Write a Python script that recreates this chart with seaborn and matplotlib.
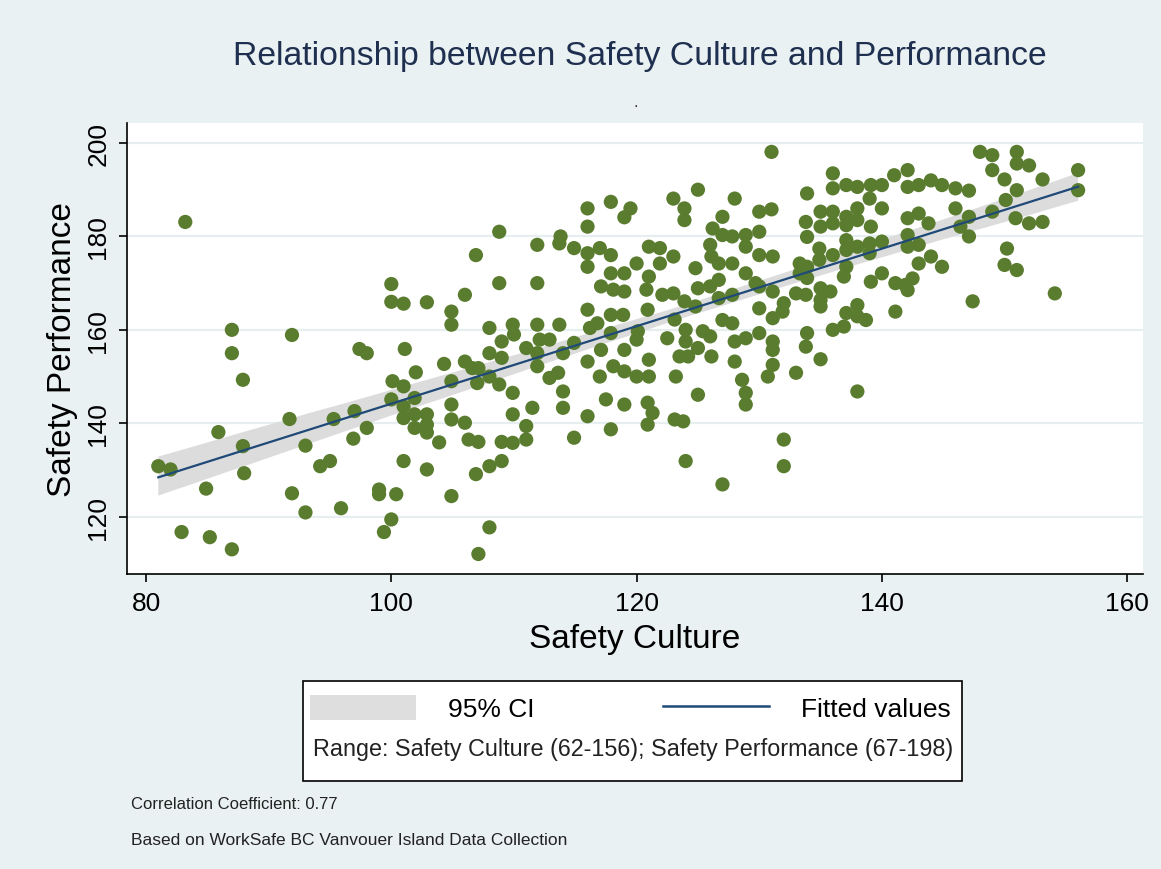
import matplotlib
matplotlib.use("Agg")
import matplotlib.pyplot as plt
from matplotlib.patches import Patch, Rectangle
from matplotlib.lines import Line2D
import numpy as np
import pandas as pd
import seaborn as sns

# points (safety culture, safety performance)
culture = [
    83.2, 100, 100, 101, 102.9, 104.9, 104.9, 87, 87, 91.9, 87.9, 97.4, 98, 101.1, 102, 104.3,
    104.9, 100.1, 101, 100, 101.9, 101, 101, 101.9, 102.9, 101.9, 102.9, 102.9, 104.9, 104.9,
    103.9, 97, 96.9, 98, 95.3, 91.7, 93, 94.2, 95, 101, 102.9, 85.9, 87.9, 88, 81, 82, 84.9,
    91.9, 93, 95.9, 99, 99, 100.4, 104.9, 100, 99.4, 82.9, 85.2, 87,
    131, 125, 123, 128, 123.9, 123.9, 117.9, 116, 116, 119.5, 119, 130, 131, 127, 126.2, 127,
    127.8, 128.9, 130, 128.9, 126, 126.1, 126.7, 127.8, 130, 131.1, 128.9, 129.7, 130, 131.1,
    127.8, 126.7, 126, 126.7, 124.8, 125, 124.8, 130, 131.1, 127, 127.8, 128, 128.9, 130, 131.1,
    131.1, 131.1, 130.7, 128, 128.6, 128.9, 128.9, 125, 123.2, 123.5, 124.2, 124, 125, 126,
    126.1, 125.4, 124, 123.1, 122.5, 123.1, 123.8, 124, 127, 121, 121.9, 120, 121.9, 123, 121,
    120.8, 122.1, 123, 123.9, 120.9, 120.1, 120, 119, 117.9, 117.9, 118.9, 119, 118.1, 117.1,
    117.9, 119, 117.9, 117, 116, 116, 114.9, 113.8, 113.7, 111.9, 108.8, 106.9, 108.8, 111.9,
    106, 108, 109.9, 110, 111.9, 113.7, 116, 116.2, 116.8, 109, 108, 109, 111, 112.1, 112.9,
    111.9, 111.9, 114, 114.9, 117.1, 116, 118.1, 119, 120, 121, 121, 117, 112.9, 113.6, 114,
    114, 111.5, 117.5, 119, 120.9, 121.3, 120.9, 116, 117.9, 114.9, 109.9, 109.9, 111, 111,
    109.9, 109, 107.1, 106.3, 106, 106, 106.6, 107.1, 107, 108, 108.8, 108, 109, 106.9, 108,
    107.1,
    148, 149, 151, 151, 152, 149, 150, 153.1, 156, 156, 151, 150.1, 149, 150.9, 152, 153.1,
    147.1, 146, 146.4, 147.1, 150.2, 150, 151, 154.1, 147.4, 142.1, 141, 147.1, 146, 144.9, 144,
    143, 142.1, 140, 139.1, 138, 137.1, 136, 136, 133.9, 139, 140, 138, 137.1, 136, 135, 133.8,
    135, 136, 137.1, 138, 139.1, 133.9, 142.1, 143, 143.8, 142.1, 142.1, 143, 140, 139, 138,
    137.1, 137.1, 139, 136, 134.9, 134.9, 133.3, 133.9, 133.3, 133.9, 137.1, 136.9, 143, 144,
    144.9, 140, 139.1, 141.1, 141.9, 142.5, 142.1, 133, 133.8, 135, 135.8, 135, 135, 132, 131.9,
    138, 137.1, 138, 138.7, 136.9, 136, 141.1, 133.9, 133.8, 133, 135, 138, 132, 132,
]
performance = [
    183.1, 169.8, 166, 165.6, 165.9, 163.9, 161.1, 160, 155, 158.9, 149.3, 155.9, 155, 155.9,
    150.9, 152.7, 149, 149, 147.9, 145.1, 145.4, 143.6, 141.1, 141.9, 141.9, 139, 139.7, 138,
    144, 140.8, 135.9, 142.6, 136.7, 139, 140.9, 140.9, 135.2, 130.8, 131.9, 131.9, 130.1,
    138.1, 135.1, 129.3, 130.8, 130.1, 126, 125, 120.9, 121.8, 125.8, 124.8, 124.8, 124.4,
    119.4, 116.7, 116.7, 115.6, 113,
    198.1, 190, 188.1, 188.1, 186, 183.5, 187.4, 186, 182.1, 186, 184.1, 185.3, 185.8, 184.2,
    181.7, 180.3, 180, 180.3, 181, 177.8, 178.2, 175.7, 174.2, 174.2, 176, 175.7, 172.1, 170,
    169.3, 168.2, 167.5, 170.7, 169.3, 166.8, 173.2, 168.9, 165, 164.6, 162.5, 162.1, 161.4,
    157.5, 158.2, 159.3, 157.5, 155.7, 152.5, 150, 153.2, 149.3, 146.5, 144, 146.1, 150, 154.3,
    154.3, 157.5, 156.1, 158.6, 154.3, 159.7, 160, 162.2, 158.2, 140.8, 140.4, 131.9, 126.9,
    177.8, 177.5, 174.2, 174.2, 175.7, 171.4, 168.6, 167.5, 167.8, 166.1, 164.3, 159.7, 157.9,
    155.7, 159.3, 163.2, 163.2, 168.2, 168.6, 169.3, 172.1, 172.1, 176, 177.5, 176.4, 173.5,
    177.5, 180, 178.5, 178.2, 181, 176, 170, 170, 167.5, 160.4, 161.1, 159, 161.1, 161.1,
    164.3, 160.4, 161.4, 157.5, 155, 154, 156.1, 157.9, 157.9, 155, 152.2, 155, 157.2, 155.7,
    153.2, 152.2, 151.1, 150, 153.6, 150, 150, 149.7, 150.8, 146.8, 143.3, 143.3, 145.1, 144,
    144.4, 142.2, 139.7, 141.5, 138.7, 136.9, 146.5, 141.9, 139.4, 136.5, 135.8, 136, 136,
    136.5, 140.1, 153.2, 151.8, 151.8, 148.6, 150, 148.3, 130.8, 131.9, 129.1, 117.7, 112,
    198.1, 197.4, 198.1, 195.6, 195.2, 194.2, 192.2, 192.2, 194.2, 189.9, 189.9, 187.8, 185.3,
    183.9, 182.8, 183.1, 184.2, 186, 182.1, 180, 177.4, 173.9, 172.8, 167.8, 166.1, 194.2,
    193.1, 189.8, 190.3, 191, 192, 191, 190.6, 191, 191, 190.6, 191, 193.5, 190.3, 189.2,
    188.1, 186, 186, 184.2, 185.3, 185.3, 183.1, 182.1, 182.8, 182.4, 183.5, 182.1, 179.9,
    183.9, 184.9, 182.8, 180.3, 177.8, 178.2, 178.9, 178.5, 177.8, 179.2, 177.1, 176.4, 176,
    177.4, 175, 174.2, 173.5, 172.1, 171.1, 173.5, 171.4, 174.2, 175.7, 173.5, 172.1, 170.3,
    170, 169.6, 171, 168.5, 167.8, 167.5, 168.9, 168.2, 166.4, 165, 165.7, 163.9, 165.3, 163.6,
    162.9, 162.1, 160.7, 160, 163.9, 159.3, 156.4, 150.8, 153.7, 146.8, 136.5, 130.8,
]

x_ticks = [80, 100, 120, 140, 160]
y_ticks = [120, 140, 160, 180, 200]

df = pd.DataFrame({"Safety Culture": culture, "Safety Performance": performance})

bg = "#eaf1f3"
green = "#5a7c2f"
navy = "#1f4a78"

plt.rcParams["font.family"] = ["Liberation Sans", "DejaVu Sans"]

fig = plt.figure(figsize=(11.61, 8.7), dpi=100, facecolor=bg)
ax = fig.add_axes([0.1094, 0.339, 0.8752, 0.518])
ax.set_facecolor("white")

# fit line + 95% CI band
sns.regplot(data=df, x="Safety Culture", y="Safety Performance", scatter=False, ci=95,
            seed=0, ax=ax, line_kws={"color": navy, "lw": 1.6, "zorder": 4})
band = ax.collections[-1]
band.set_facecolor("#dcdcdc")
band.set_alpha(1)
band.set_zorder(1)

sns.scatterplot(data=df, x="Safety Culture", y="Safety Performance", color=green,
                s=105, edgecolor="none", ax=ax, zorder=3)

ax.set_xlim(78.45, 161.3)
ax.set_ylim(107.7, 204.2)
ax.set_xticks(x_ticks)
ax.set_yticks(y_ticks)
ax.grid(axis="y", color="#e6eef0", lw=1.6, zorder=0)
ax.grid(axis="x", visible=False)
ax.set_axisbelow(True)
for side in ["top", "right"]:
    ax.spines[side].set_visible(False)
for side in ["left", "bottom"]:
    ax.spines[side].set_color("black")
    ax.spines[side].set_linewidth(1.2)
ax.tick_params(axis="both", direction="out", length=6, width=1.2, labelsize=19, pad=6)
for lab in ax.get_yticklabels():
    lab.set_rotation(90)
    lab.set_va("center")
ax.set_xlabel("Safety Culture", fontsize=24, labelpad=6)
ax.set_ylabel("Safety Performance", fontsize=24, labelpad=6)

fig.text(0.551, 0.935, "Relationship between Safety Culture and Performance",
         ha="center", va="center", fontsize=24.3, color="#1e2f4f")
fig.text(0.548, 0.882, ".", ha="center", va="center", fontsize=12, color="#333333")

# legend box
fig.patches.append(Rectangle((0.261, 0.1011), 0.5676, 0.115, transform=fig.transFigure,
                             facecolor="white", edgecolor="black", lw=1.2, zorder=1))
handles = [Patch(facecolor="#dedede", edgecolor="none"), Line2D([], [], color=navy, lw=1.8)]
fig.legend(handles, ["95% CI", "Fitted values"], loc="center", bbox_to_anchor=(0.543, 0.185),
           ncol=2, frameon=False, fontsize=19, handlelength=4.0, handleheight=1.1,
           handletextpad=1.2, columnspacing=4.9)
fig.text(0.545, 0.138, "Range: Safety Culture (62-156); Safety Performance (67-198)",
         ha="center", va="center", fontsize=16.8, color="#222222")

fig.text(0.113, 0.075, "Correlation Coefficient: 0.77", ha="left", va="center",
         fontsize=12, color="#222222")
fig.text(0.113, 0.034, "Based on WorkSafe BC Vanvouer Island Data Collection", ha="left",
         va="center", fontsize=12.5, color="#222222")

fig.savefig("out.png", dpi=100, facecolor=bg)
